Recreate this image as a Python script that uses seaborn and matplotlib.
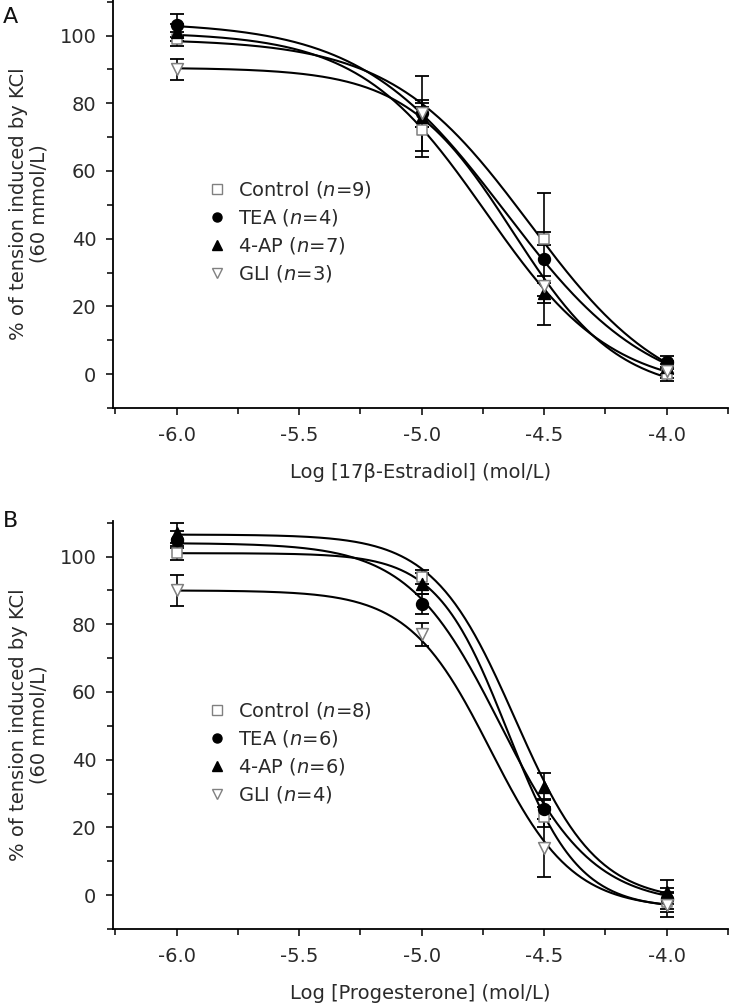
import numpy as np
import pandas as pd
import matplotlib
matplotlib.use("Agg")
import matplotlib.pyplot as plt
import seaborn as sns
from matplotlib.ticker import MultipleLocator
from matplotlib.lines import Line2D

# ---------------- data ----------------
log_conc = [-6.0, -5.0, -4.5, -4.0]
groups = ["Control", "TEA", "4-AP", "GLI"]

# Panel A: 17beta-Estradiol
a_n = [9, 4, 7, 3]
a_control = [99, 72, 40, 0]
a_tea = [103, 77, 34, 3.5]
a_4ap = [101, 76, 24, 2]
a_gli = [90, 77, 26, 1]
a_control_sem = [2, 8, 2, 2]
a_tea_sem = [3.5, 11, 19.5, 2]
a_4ap_sem = [2.5, 3, 3, 2]
a_gli_sem = [3, 4, 3, 2]
# fitted Hill curves (top, bottom, logIC50, slope)
a_top = [99, 104, 101, 90.5]
a_bottom = [-10, -8, -5, -6]
a_logic50 = [-4.56, -4.66, -4.74, -4.63]
a_hill = [1.53, 1.46, 1.68, 2.0]

# Panel B: Progesterone
b_n = [8, 6, 6, 4]
b_control = [101, 94, 23, -2]
b_tea = [105, 86, 25.5, -1]
b_4ap = [107, 92, 32, 1]
b_gli = [90, 77, 14, -3]
b_control_sem = [2, 2, 3, 3]
b_tea_sem = [2.5, 3, 3, 3]
b_4ap_sem = [3, 3, 4, 3.5]
b_gli_sem = [4.5, 3.5, 8.5, 3.5]
b_top = [101, 104, 106.5, 90]
b_bottom = [-4, -3, -2, -4]
b_logic50 = [-4.65, -4.68, -4.62, -4.72]
b_hill = [3.0, 2.3, 2.6, 2.6]

x_ticks = [-6.0, -5.5, -5.0, -4.5, -4.0]
y_ticks = [0, 20, 40, 60, 80, 100]

# ---------------- style ----------------
sns.set_style("ticks")
plt.rcParams['font.family'] = ['DejaVu Sans']
plt.rcParams['mathtext.fontset'] = 'dejavusans'

FS = 14
TXT = "#2a2a2a"
GRAY = "#808080"
styles = {
    "Control": dict(marker="s", face="white", edge=GRAY, size=7.5),
    "TEA": dict(marker="o", face="black", edge="black", size=8.5),
    "4-AP": dict(marker="^", face="black", edge="black", size=8.5),
    "GLI": dict(marker="v", face="white", edge=GRAY, size=8.5),
}

fig = plt.figure(figsize=(7.29, 10.06), dpi=100)
W, H = 729, 1006
axA = fig.add_axes([113 / W, 1 - 408 / H, 615 / W, 408 / H])
axB = fig.add_axes([113 / W, 1 - 929 / H, 615 / W, 408 / H])


def hill(x, top, bottom, c, h):
    return bottom + (top - bottom) / (1 + 10 ** (h * (x - c)))


def draw(ax, means, sems, tops, bottoms, ics, hills, ns, xlabel):
    xs = np.linspace(-6.0, -4.0, 300)
    rows = []
    for g, t, b, c, h in zip(groups, tops, bottoms, ics, hills):
        for xv in xs:
            rows.append((g, xv, hill(xv, t, b, c, h)))
    curve_df = pd.DataFrame(rows, columns=["group", "x", "y"])
    sns.lineplot(data=curve_df, x="x", y="y", units="group", estimator=None,
                 color="black", lw=1.5, ax=ax, legend=False)
    pts = []
    for g, m, s in zip(groups, means, sems):
        for xv, mv, sv in zip(log_conc, m, s):
            pts.append((g, xv, mv, sv))
    pt_df = pd.DataFrame(pts, columns=["group", "x", "y", "err"])
    for g in groups:
        sub = pt_df[pt_df["group"] == g]
        ax.errorbar(sub["x"], sub["y"], yerr=sub["err"], fmt="none", ecolor="black",
                    elinewidth=1.2, capsize=5, capthick=1.3, zorder=3)
    for g in groups:
        st = styles[g]
        sub = pt_df[pt_df["group"] == g]
        sns.scatterplot(data=sub, x="x", y="y", marker=st["marker"], s=st["size"] ** 2,
                        color=st["face"], edgecolor=st["edge"], linewidth=1.1,
                        ax=ax, zorder=4, legend=False)
    ax.set_xlim(-6.26, -3.75)
    ax.set_ylim(-10, 110.5)
    ax.set_xticks(x_ticks)
    ax.set_xticklabels([f"{v:.1f}" for v in x_ticks])
    ax.xaxis.set_minor_locator(MultipleLocator(0.25))
    ax.set_yticks(y_ticks)
    ax.yaxis.set_minor_locator(MultipleLocator(10))
    ax.tick_params(axis="both", which="major", direction="out", length=5, width=1.1,
                   labelsize=FS, color="black", labelcolor=TXT)
    ax.tick_params(axis="both", which="minor", direction="out", length=4, width=1.1,
                   color="black")
    ax.tick_params(axis="x", which="major", pad=8)
    ax.tick_params(axis="y", which="major", pad=7)
    for sp in ["top", "right"]:
        ax.spines[sp].set_visible(False)
    for sp in ["left", "bottom"]:
        ax.spines[sp].set_linewidth(1.3)
        ax.spines[sp].set_color("black")
    ax.set_xlabel(xlabel, fontsize=FS, labelpad=13, color=TXT)
    ax.set_ylabel("% of tension induced by KCl\n(60 mmol/L)", fontsize=FS,
                  linespacing=1.1, color=TXT)
    ax.yaxis.set_label_coords(-0.105, 0.5)

    handles = []
    labels = []
    for g, n in zip(groups, ns):
        st = styles[g]
        handles.append(Line2D([], [], ls="none", marker=st["marker"], markersize=6.5,
                              markerfacecolor=st["face"], markeredgecolor=st["edge"],
                              markeredgewidth=1.0))
        labels.append(g + r" ($\mathit{n}$=" + str(n) + ")")
    ax.legend(handles, labels, loc="center left", bbox_to_anchor=(0.153, 0.433),
              frameon=False, fontsize=FS, handlelength=1.0, handletextpad=0.6,
              labelspacing=0.36, borderpad=0, borderaxespad=0, labelcolor=TXT)


draw(axA, [a_control, a_tea, a_4ap, a_gli],
     [a_control_sem, a_tea_sem, a_4ap_sem, a_gli_sem],
     a_top, a_bottom, a_logic50, a_hill, a_n, "Log [17β-Estradiol] (mol/L)")
draw(axB, [b_control, b_tea, b_4ap, b_gli],
     [b_control_sem, b_tea_sem, b_4ap_sem, b_gli_sem],
     b_top, b_bottom, b_logic50, b_hill, b_n, "Log [Progesterone] (mol/L)")

fig.text(3 / W, 1 - 17 / H, "A", fontsize=16, va="center", ha="left", color="#111111")
fig.text(3 / W, 1 - 521 / H, "B", fontsize=16, va="center", ha="left", color="#111111")

fig.savefig("out.png", dpi=100)
